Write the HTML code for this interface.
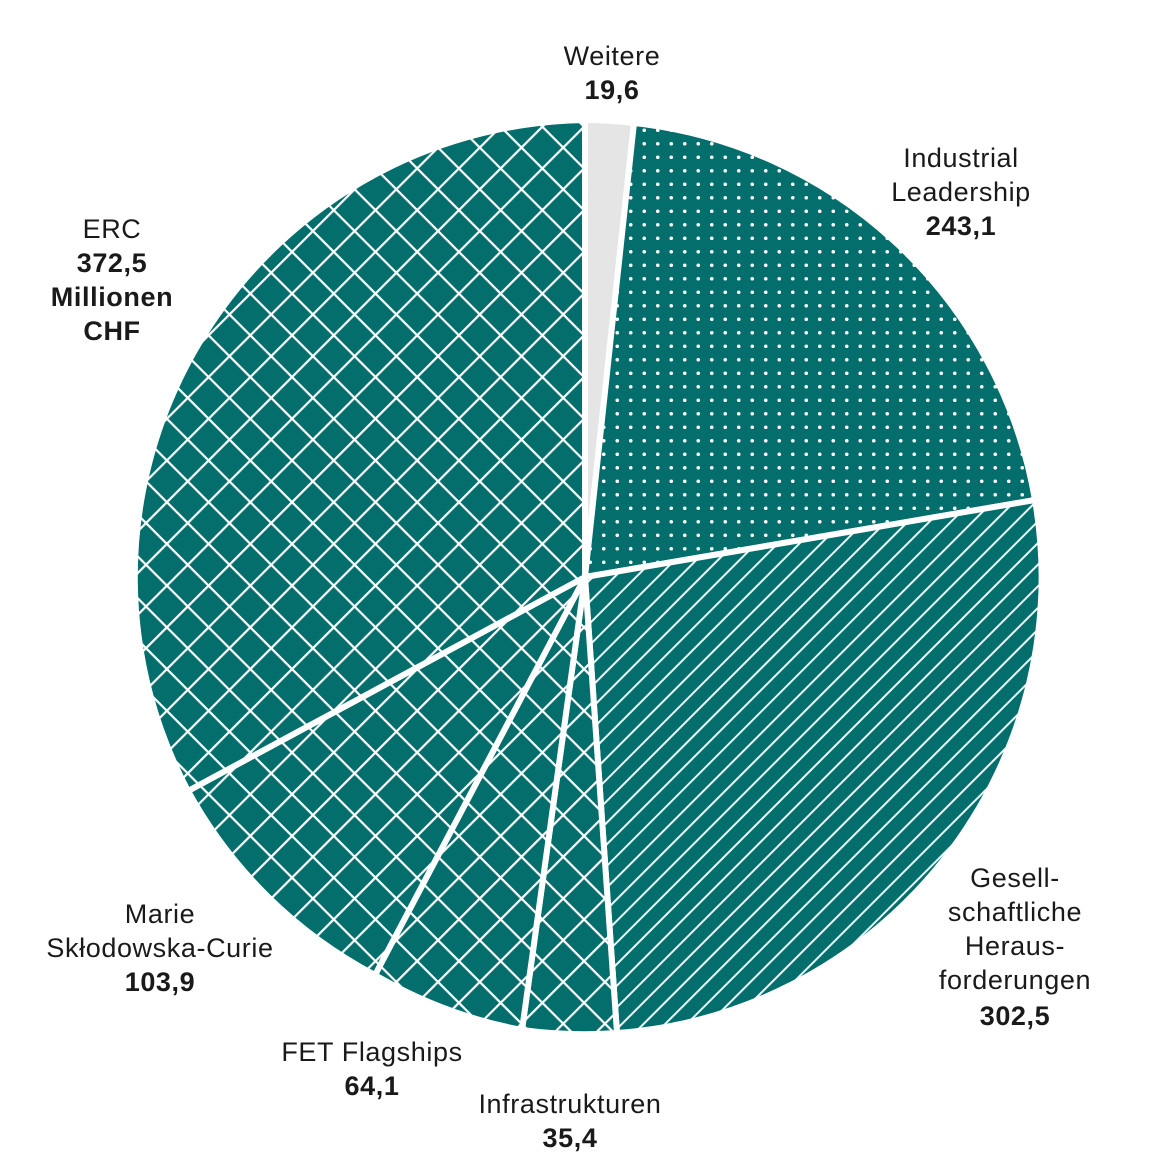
<!DOCTYPE html>
<html><head><meta charset="utf-8"><style>
html,body{margin:0;padding:0;background:#fff;}
svg{display:block;}
text{font-family:"Liberation Sans",Arial,sans-serif;font-size:27px;letter-spacing:0.6px;fill:#1a1a1a;text-anchor:middle;}
.b{font-weight:bold;}
</style></head><body>
<svg width="1160" height="1160" viewBox="0 0 1160 1160" xmlns="http://www.w3.org/2000/svg">
<defs>
<pattern id="dots" width="13.5" height="13.5" patternUnits="userSpaceOnUse" x="3" y="2">
<rect width="13.5" height="13.5" fill="#036e6b"/>
<circle cx="6.75" cy="6.75" r="1.8" fill="#fff"/>
</pattern>
<pattern id="stripes" width="15.3" height="15.3" patternUnits="userSpaceOnUse" patternTransform="rotate(45)">
<rect width="15.3" height="15.3" fill="#036e6b"/>
<rect x="0" y="0" width="2" height="15.3" fill="#eafafa"/>
</pattern>
<pattern id="cross" width="29.5" height="29.5" patternUnits="userSpaceOnUse" patternTransform="rotate(45)">
<rect width="29.5" height="29.5" fill="#036e6b"/>
<rect x="0" y="0" width="2.2" height="29.5" fill="#fff"/>
<rect x="0" y="0" width="29.5" height="2.2" fill="#fff"/>
</pattern>
</defs>
<g stroke="#fff" stroke-width="6" stroke-linejoin="round">
<path d="M585,577 L585,120 A457,457 0 0 1 634,123 Z" fill="#e5e5e5"/>
<path d="M585,577 L634,123 A457,457 0 0 1 1035,500 Z" fill="url(#dots)"/>
<path d="M585,577 L1035,500 A457,457 0 0 1 617,1033 Z" fill="url(#stripes)"/>
<path d="M585,577 L617,1033 A457,457 0 0 1 522,1030 Z" fill="url(#cross)"/>
<path d="M585,577 L522,1030 A457,457 0 0 1 375,975 Z" fill="url(#cross)"/>
<path d="M585,577 L375,975 A457,457 0 0 1 188,791 Z" fill="url(#cross)"/>
<path d="M585,577 L188,791 A457,457 0 0 1 585,120 Z" fill="url(#cross)"/>
</g>
<text x="612" y="65">Weitere</text>
<text x="612" y="99" class="b">19,6</text>
<text x="961" y="167">Industrial</text>
<text x="961" y="201">Leadership</text>
<text x="961" y="235" class="b">243,1</text>
<text x="112" y="238">ERC</text>
<text x="112" y="272" class="b">372,5</text>
<text x="112" y="306" class="b">Millionen</text>
<text x="112" y="340" class="b">CHF</text>
<text x="1015" y="887">Gesell-</text>
<text x="1015" y="921">schaftliche</text>
<text x="1015" y="955">Heraus-</text>
<text x="1015" y="989">forderungen</text>
<text x="1015" y="1025" class="b">302,5</text>
<text x="160" y="923">Marie</text>
<text x="160" y="957">Skłodowska-Curie</text>
<text x="160" y="991" class="b">103,9</text>
<text x="372" y="1061">FET Flagships</text>
<text x="372" y="1095" class="b">64,1</text>
<text x="570" y="1113">Infrastrukturen</text>
<text x="570" y="1147" class="b">35,4</text>
</svg>
</body></html>
